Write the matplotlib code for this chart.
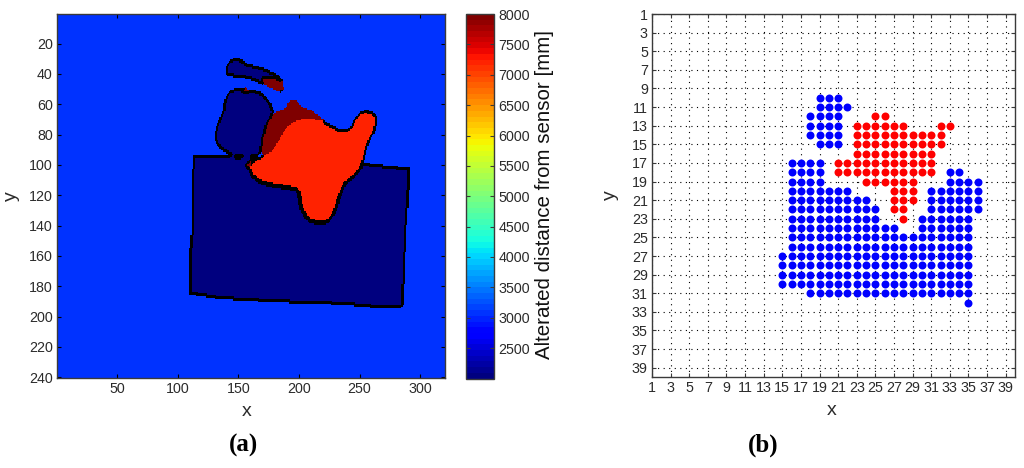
import numpy as np
import matplotlib
matplotlib.use('Agg')
import matplotlib.pyplot as plt
from matplotlib.path import Path

plt.rcParams['font.family'] = ['Liberation Sans', 'DejaVu Sans']

# ---------- panel (a): depth map, outlines in image coordinates (x, y) ----------
BACKGROUND_MM = 3050
NEAR_MM = 2000
TORSO_MM = 7200
FAR_MM = 8000

box_x = [112.7, 111.3, 111.3, 109.9, 109.9, 134.7, 181.6, 236.7, 258.7, 284.9, 286.2, 287.6, 290.4, 290.4, 255.9, 159.5]
box_y = [93.7, 111.7, 144.6, 155.6, 184.2, 187.5, 189.7, 191.3, 193.0, 193.4, 175.4, 144.6, 111.7, 101.8, 98.9, 94.1]

head_x = [137.1, 138.5, 144.0, 153.6, 168.8, 175.6, 179.2, 175.6, 170.1, 168.2, 156.4, 142.6, 134.4, 129.7, 133.0]
head_y = [64.4, 56.7, 50.1, 49.6, 51.8, 58.9, 64.4, 69.9, 80.8, 92.9, 94.5, 92.9, 88.5, 81.9, 72.0]

arm_x = [139.3, 144.0, 148.7, 156.4, 170.1, 181.1, 186.6, 187.2, 183.9, 177.0, 168.8, 159.1, 148.1, 139.9]
arm_y = [35.8, 30.3, 29.2, 32.9, 35.8, 40.2, 44.6, 50.1, 51.8, 49.6, 45.7, 42.4, 41.3, 40.2]

hand_x = [169.6, 179.7, 186.6, 187.2, 183.3, 176.2, 170.1]
hand_y = [43.0, 42.4, 45.2, 50.1, 51.6, 49.2, 46.3]

back_x = [168.8, 170.1, 173.4, 179.7, 189.4, 192.1, 197.6, 200.9, 211.4, 222.0, 205.0, 195.0, 190.0, 182.0]
back_y = [92.9, 83.0, 72.1, 65.5, 62.2, 57.8, 56.7, 61.1, 64.4, 71.0, 80.0, 85.0, 92.0, 97.0]

side_x = [156.4, 160.5, 162.0]
side_y = [99.5, 96.2, 106.1]

spot_x = [153.6, 155.8, 158.6]
spot_y = [51.2, 48.3, 51.2]

torso_x = [159.1, 166.0, 177.0, 182.5, 189.4, 197.6, 207.2, 219.6, 233.4, 242.2, 245.7, 252.6, 260.8, 264.4, 262.2,
           256.7, 252.0, 247.1, 237.5, 232.0, 229.2, 223.7, 216.9, 207.2, 201.7, 199.0, 189.4, 175.6, 166.0, 159.7]
torso_y = [99.5, 94.5, 91.8, 85.2, 75.3, 70.5, 69.4, 70.5, 76.9, 76.0, 68.8, 63.7, 64.4, 69.9, 77.5,
           85.2, 99.5, 106.1, 111.6, 122.6, 131.4, 136.9, 138.0, 135.8, 129.2, 116.0, 114.5, 112.7, 110.5, 105.0]

regions = [
    (box_x, box_y, NEAR_MM, 0),
    (head_x, head_y, NEAR_MM, 2),
    (arm_x, arm_y, NEAR_MM, 1),
    (hand_x, hand_y, FAR_MM, 0),
    (spot_x, spot_y, FAR_MM, 0),
    (back_x, back_y, FAR_MM, 1),
    (side_x, side_y, FAR_MM, 0),
    (torso_x, torso_y, TORSO_MM, 2),
]

a_xticks = [50, 100, 150, 200, 250, 300]
a_yticks = [20, 40, 60, 80, 100, 120, 140, 160, 180, 200, 220, 240]
cbar_ticks = [2500, 3000, 3500, 4000, 4500, 5000, 5500, 6000, 6500, 7000, 7500, 8000]

# ---------- panel (b): occupied grid cells as (row y, first x, last x) ----------
blue_runs = [
    (10, 19, 21), (11, 19, 22), (12, 18, 21), (13, 18, 21), (14, 18, 21), (15, 19, 21),
    (17, 16, 19), (18, 16, 19), (18, 33, 34), (19, 16, 19), (19, 33, 36),
    (20, 16, 22), (20, 31, 36), (21, 16, 24), (21, 31, 36), (22, 16, 25), (22, 31, 36),
    (23, 16, 25), (23, 30, 35), (24, 16, 27), (24, 30, 35), (25, 16, 35), (26, 16, 35),
    (27, 15, 35), (28, 15, 35), (29, 15, 35), (30, 15, 35), (31, 18, 35), (32, 35, 35),
]
red_runs = [
    (12, 25, 26), (13, 23, 28), (13, 32, 33), (14, 23, 32), (15, 23, 32), (16, 23, 31),
    (17, 21, 31), (18, 21, 31), (19, 24, 29), (20, 27, 29), (21, 27, 29), (22, 27, 28), (23, 28, 28),
]
b_ticks = list(range(1, 40, 2))

W, H = 1024, 468
FRAME = '#3a3a3a'
TEXT = '#2b2b2b'


def axes_px(fig, left, top, right, bottom):
    return fig.add_axes([left / W, 1 - bottom / H, (right - left) / W, (bottom - top) / H])


def style(ax, size=3.2):
    for s in ax.spines.values():
        s.set_color(FRAME)
        s.set_linewidth(1.0)
    ax.tick_params(direction='in', top=True, right=True, length=size, width=0.8,
                   color=FRAME, labelcolor=TEXT, labelsize=10.3, pad=3)


def expand(runs):
    xs, ys = [], []
    for row, first, last in runs:
        for col in range(first, last + 1):
            xs.append(col)
            ys.append(row)
    return xs, ys


def soften(mask, radius):
    # rounds polygon corners: box-blur the mask a few times, then threshold
    if radius == 0:
        return mask
    kernel = np.ones(2 * radius + 1) / (2 * radius + 1)
    out = mask.astype(float)
    for _ in range(2):
        out = np.apply_along_axis(lambda r: np.convolve(r, kernel, mode='same'), 0, out)
        out = np.apply_along_axis(lambda r: np.convolve(r, kernel, mode='same'), 1, out)
    return out > 0.5


fig = plt.figure(figsize=(W / 100, H / 100), dpi=100)

# ---- (a) ----
ax = axes_px(fig, 57, 14, 445, 378)
gx, gy = np.meshgrid(np.arange(1, 321), np.arange(1, 241))
pts = np.column_stack([gx.ravel(), gy.ravel()])
depth = np.full(gx.shape, float(BACKGROUND_MM))
for rx, ry, val, radius in regions:
    inside = Path(np.column_stack([rx, ry])).contains_points(pts).reshape(gx.shape)
    depth[soften(inside, radius)] = val

# black rim wherever neighbouring cells differ, except far/torso which meet directly
rim = np.zeros(depth.shape, dtype=bool)
for axis in (0, 1):
    a = np.take(depth, range(depth.shape[axis] - 1), axis=axis)
    b = np.take(depth, range(1, depth.shape[axis]), axis=axis)
    edge = (a != b) & ~((np.minimum(a, b) == TORSO_MM) & (np.maximum(a, b) == FAR_MM))
    if axis == 0:
        rim[:-1, :] |= edge & (a == NEAR_MM) | edge & (a == TORSO_MM)
        rim[1:, :] |= edge & (b == NEAR_MM) | edge & (b == TORSO_MM)
    else:
        rim[:, :-1] |= edge & (a == NEAR_MM) | edge & (a == TORSO_MM)
        rim[:, 1:] |= edge & (b == NEAR_MM) | edge & (b == TORSO_MM)
thick = rim.copy()
thick[1:, :] |= rim[:-1, :]
thick[:, 1:] |= rim[:, :-1]
rim = thick

cmap = plt.get_cmap('jet', 64)
im = ax.imshow(depth, cmap=cmap, vmin=2000, vmax=8000, extent=(0.5, 320.5, 240.5, 0.5),
               aspect='auto', interpolation='nearest')
overlay = np.zeros(depth.shape + (4,))
overlay[rim, 3] = 1.0
ax.imshow(overlay, extent=(0.5, 320.5, 240.5, 0.5), aspect='auto', interpolation='nearest')
ax.set_xlim(0.5, 320.5)
ax.set_ylim(240.5, 0.5)
ax.set_xticks(a_xticks)
ax.set_yticks(a_yticks)
style(ax)
ax.tick_params(color='black')
ax.set_xlabel('x', fontsize=14, color=TEXT)
ax.set_ylabel('y', fontsize=14, color=TEXT)
ax.xaxis.set_label_coords(0.49, -0.07)
ax.yaxis.set_label_coords(-0.095, 0.5)

# ---- colorbar ----
cax = axes_px(fig, 465.5, 14, 494, 378.5)
cb = fig.colorbar(im, cax=cax)
cb.set_ticks(cbar_ticks)
style(cax)
cax.tick_params(left=True, right=True, top=False, length=3.2)
cb.outline.set_edgecolor(FRAME)
cb.outline.set_linewidth(1.0)
cb.set_label('Alterated distance from sensor [mm]', fontsize=14.8, color='#111111')
cax.yaxis.set_label_coords(2.45, 0.506)

# ---- (b) ----
bx = axes_px(fig, 652, 14, 1015, 377)
bx.set_xlim(1, 40)
bx.set_ylim(40, 1)
bx.set_xticks(b_ticks)
bx.set_yticks(b_ticks)
bx.grid(True, linestyle=(0, (1, 4)), color='black', linewidth=0.8)
bx.set_axisbelow(True)
style(bx, 2.8)
blue_xs, blue_ys = expand(blue_runs)
red_xs, red_ys = expand(red_runs)
bx.scatter(blue_xs, blue_ys, s=33, color='#0000ff', linewidths=0, zorder=3)
bx.scatter(red_xs, red_ys, s=33, color='#ff0000', linewidths=0, zorder=3)
bx.set_xlabel('x', fontsize=14, color=TEXT)
bx.set_ylabel('y', fontsize=14, color=TEXT)
bx.xaxis.set_label_coords(0.495, -0.07)
bx.yaxis.set_label_coords(-0.09, 0.5)

fig.text(243 / W, 1 - 445 / H, '(a)', family='Liberation Serif', fontsize=18, fontweight='bold',
         ha='center', va='center', color='black')
fig.text(763 / W, 1 - 445 / H, '(b)', family='Liberation Serif', fontsize=18, fontweight='bold',
         ha='center', va='center', color='black')

fig.savefig('out.png', dpi=100)
